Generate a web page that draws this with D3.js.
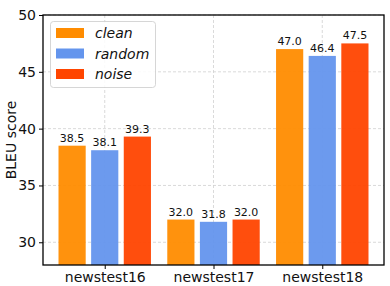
<!DOCTYPE html>
<html><head><meta charset="utf-8">
<script src="https://cdn.jsdelivr.net/npm/d3@7"></script>
<style>body{margin:0;background:#fff;} svg{display:block;font-family:"DejaVu Sans",sans-serif;}</style>
</head><body><svg id="c" width="390" height="286"></svg>
<script>
const categories = ["newstest16", "newstest17", "newstest18"];
const seriesNames = ["clean", "random", "noise"];
const clean = [38.5, 32.0, 47.0];
const random = [38.1, 31.8, 46.4];
const noise = [39.3, 32.0, 47.5];
const yTicks = [30, 35, 40, 45, 50];
const colors = ["#FF8C00", "#6495ED", "#FF4500"];
const seriesValues = [clean, random, noise];

const svg = d3.select("#c");
const L = 43, R = 384, T = 15, B = 265;
const x = d3.scaleLinear().domain([-0.5675, 2.5675]).range([L, R]);
const y = d3.scaleLinear().domain([28, 50]).range([B, T]);
const offsets = [-0.3, 0, 0.3], bw = 0.25;

// grid
const grid = svg.append("g").attr("stroke", "#d0d0d0").attr("stroke-dasharray", "3,2").attr("stroke-width", 0.8);
yTicks.forEach(t => grid.append("line").attr("x1", L).attr("x2", R).attr("y1", y(t)).attr("y2", y(t)));
categories.forEach((c, i) => grid.append("line").attr("x1", x(i)).attr("x2", x(i)).attr("y1", T).attr("y2", B));

// bars
seriesValues.forEach((vals, s) => {
  svg.append("g").selectAll("rect").data(vals).join("rect")
    .attr("x", (d, i) => x(i + offsets[s] - bw / 2))
    .attr("width", x(bw) - x(0))
    .attr("y", d => y(d))
    .attr("height", d => y(28) - y(d))
    .attr("fill", colors[s])
    .attr("fill-opacity", 0.95);
  svg.append("g").selectAll("text").data(vals).join("text")
    .attr("x", (d, i) => x(i + offsets[s]))
    .attr("y", d => y(d) - 4)
    .attr("text-anchor", "middle")
    .attr("font-size", 11)
    .attr("fill", "#111")
    .text(d => d.toFixed(1));
});

// axes
const yAxis = d3.axisLeft(y).tickValues(yTicks).tickSize(4).tickPadding(3);
const gy = svg.append("g").attr("transform", `translate(${L},0)`).call(yAxis);
gy.select(".domain").remove();
gy.selectAll("text").attr("font-size", 14).attr("fill", "#111").attr("font-family", "DejaVu Sans");
gy.selectAll("line").attr("stroke", "#000");

const xAxis = d3.axisBottom(x).tickValues([0, 1, 2]).tickFormat(i => categories[i]).tickSize(4).tickPadding(3);
const gx = svg.append("g").attr("transform", `translate(0,${B})`).call(xAxis);
gx.select(".domain").remove();
gx.selectAll("text").attr("font-size", 14).attr("fill", "#111").attr("font-family", "DejaVu Sans");
gx.selectAll("line").attr("stroke", "#000");

svg.append("rect").attr("x", L).attr("y", T).attr("width", R - L).attr("height", B - T)
  .attr("fill", "none").attr("stroke", "#000").attr("stroke-width", 1.3);

svg.append("text").attr("transform", `translate(16,${(T + B) / 2}) rotate(-90)`)
  .attr("text-anchor", "middle").attr("font-size", 14).attr("fill", "#111").text("BLEU score");

// legend
const lg = svg.append("g");
lg.append("rect").attr("x", 50.5).attr("y", 21.5).attr("width", 105).attr("height", 66).attr("rx", 3)
  .attr("fill", "#fff").attr("fill-opacity", 0.85).attr("stroke", "#ccc").attr("stroke-width", 0.8);
seriesNames.forEach((n, i) => {
  const cy = 33 + i * 20.5;
  lg.append("rect").attr("x", 56).attr("y", cy - 5).attr("width", 28).attr("height", 10).attr("fill", colors[i]);
  lg.append("text").attr("x", 95).attr("y", cy + 5).attr("font-size", 14).attr("font-style", "italic")
    .attr("fill", "#111").text(n);
});
</script></body></html>
